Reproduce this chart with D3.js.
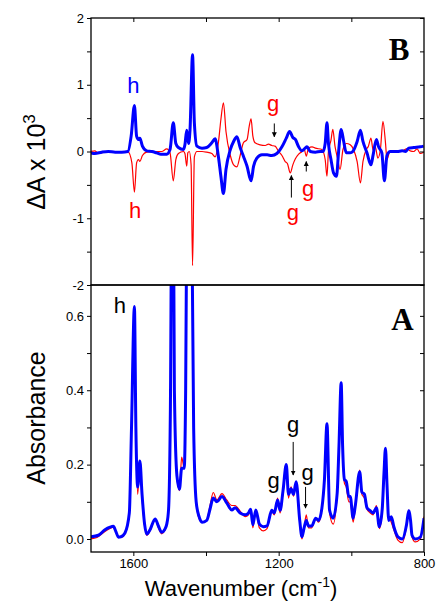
<!DOCTYPE html>
<html>
<head>
<meta charset="utf-8">
<script src="https://cdn.jsdelivr.net/npm/d3@7/dist/d3.min.js"></script>
<style>
body { margin: 0; background: #fff; }
text { font-family: "Liberation Sans", Arial, sans-serif; fill: #000; }
</style>
</head>
<body>
<div id="chart"></div>
<script>
// panel B: difference spectra (x 10^3), [wavenumber, dA]
var blueB = [[1717,-0.02],[1706,-0.03],[1687,-0.01],[1669,0.0],[1650,-0.01],[1632,-0.01],[1615,0.0],[1606,0.23],[1597,0.69],[1591,0.23],[1586,0.18],[1582,0.2],[1575,0.08],[1563,0.01],[1549,0.0],[1536,-0.02],[1524,-0.04],[1508,-0.04],[1499,0.03],[1490,0.43],[1483,0.12],[1476,0.06],[1462,0.03],[1458,0.1],[1453,0.32],[1448,0.12],[1444,0.32],[1437,1.45],[1432,0.43],[1425,0.08],[1411,0.05],[1398,0.06],[1384,0.13],[1375,0.19],[1366,-0.07],[1359,-0.37],[1352,-0.63],[1345,-0.27],[1333,0.03],[1324,0.15],[1315,0.22],[1306,0.06],[1297,-0.07],[1287,-0.22],[1276,-0.44],[1269,-0.22],[1260,-0.1],[1246,-0.05],[1232,-0.05],[1219,-0.06],[1205,-0.03],[1191,0.07],[1179,0.2],[1170,0.3],[1161,0.21],[1154,0.18],[1145,0.07],[1136,0.01],[1127,0.05],[1122,0.07],[1113,0.0],[1099,-0.01],[1085,0.0],[1078,0.0],[1072,0.12],[1067,0.43],[1063,0.12],[1056,-0.12],[1049,-0.32],[1041,-0.37],[1035,0.0],[1028,0.33],[1021,0.15],[1014,-0.02],[1003,-0.02],[996,0.0],[984,0.15],[975,0.32],[968,0.15],[957,-0.02],[946,-0.2],[940,-0.05],[931,0.18],[925,0.07],[916,-0.02],[909,-0.44],[902,-0.06],[893,0.0],[874,0.0],[860,0.01],[851,0.0],[842,0.05],[828,0.06],[810,0.07],[801,0.08]];

var redB = [[1717,0.0],[1706,0.01],[1697,-0.02],[1687,-0.02],[1678,0.0],[1669,-0.01],[1641,0.0],[1614,-0.01],[1604,-0.17],[1597,-0.61],[1591,-0.17],[1586,-0.12],[1582,-0.15],[1575,-0.06],[1563,-0.01],[1540,0.0],[1522,0.0],[1508,0.04],[1499,-0.02],[1490,-0.44],[1483,-0.12],[1476,-0.03],[1462,0.0],[1458,-0.03],[1453,-0.22],[1450,-0.02],[1446,0.0],[1441,-0.2],[1437,-1.71],[1432,-0.08],[1425,0.0],[1411,0.0],[1398,-0.01],[1384,-0.03],[1375,-0.08],[1366,0.13],[1359,0.48],[1352,0.73],[1345,0.3],[1333,-0.06],[1324,-0.2],[1315,-0.23],[1306,-0.06],[1297,0.13],[1287,0.18],[1281,0.38],[1276,0.49],[1271,0.23],[1265,0.13],[1251,0.1],[1237,0.09],[1228,0.11],[1219,0.09],[1210,0.08],[1200,0.0],[1191,-0.06],[1182,-0.15],[1176,-0.18],[1168,-0.32],[1161,-0.2],[1154,-0.11],[1145,-0.04],[1136,0.0],[1130,0.04],[1124,-0.07],[1118,0.05],[1108,0.07],[1099,0.05],[1081,0.03],[1072,-0.12],[1067,-0.37],[1063,0.0],[1056,0.17],[1051,0.33],[1045,0.08],[1038,-0.1],[1031,-0.27],[1023,0.03],[1014,0.12],[1003,0.1],[994,0.03],[984,-0.15],[975,-0.47],[968,-0.15],[959,0.03],[953,0.08],[946,0.2],[940,0.02],[934,0.07],[927,-0.1],[920,0.03],[913,0.45],[906,0.13],[902,-0.12],[894,0.0],[865,0.0],[847,0.04],[838,0.01],[828,0.0],[819,0.04],[810,-0.03],[801,-0.01]];

// panel A: absorbance spectra, [wavenumber, A]
var blueA = [[1717,0.006],[1696,0.01],[1678,0.025],[1664,0.032],[1655,0.034],[1648,0.02],[1641,0.005],[1634,0.006],[1623,0.016],[1611,0.07],[1605,0.3],[1597,0.625],[1593,0.3],[1588,0.14],[1582,0.21],[1576,0.12],[1569,0.04],[1563,0.013],[1554,0.025],[1540,0.054],[1531,0.035],[1522,0.018],[1514,0.025],[1508,0.04],[1503,0.08],[1498,0.35],[1492,1.3],[1487,0.4],[1480,0.17],[1473,0.134],[1467,0.19],[1460,0.19],[1456,0.4],[1452,1.0],[1445,1.3],[1440,1.0],[1434,0.3],[1427,0.1],[1419,0.06],[1411,0.045],[1398,0.05],[1389,0.08],[1380,0.11],[1370,0.1],[1356,0.114],[1343,0.097],[1329,0.078],[1320,0.084],[1306,0.07],[1292,0.065],[1283,0.07],[1277,0.08],[1271,0.038],[1263,0.078],[1253,0.04],[1242,0.033],[1232,0.035],[1219,0.077],[1212,0.07],[1203,0.105],[1196,0.077],[1188,0.13],[1179,0.2],[1173,0.12],[1166,0.135],[1159,0.12],[1152,0.154],[1142,0.05],[1136,0.006],[1130,0.03],[1124,0.05],[1118,0.035],[1109,0.035],[1098,0.056],[1090,0.05],[1081,0.083],[1074,0.16],[1067,0.31],[1060,0.078],[1050,0.056],[1039,0.123],[1034,0.25],[1028,0.42],[1024,0.25],[1019,0.16],[1014,0.155],[1007,0.114],[1003,0.114],[995,0.056],[989,0.09],[977,0.181],[971,0.126],[964,0.12],[957,0.084],[948,0.076],[940,0.07],[931,0.084],[923,0.033],[915,0.08],[910,0.18],[906,0.244],[902,0.15],[897,0.05],[890,0.06],[883,0.033],[872,0.006],[860,0.0],[848,0.039],[842,0.076],[837,0.05],[833,0.01],[824,0.0],[810,0.005],[800,0.056]];

var redA = [[1717,0.0],[1700,0.004],[1678,0.02],[1664,0.028],[1655,0.032],[1648,0.02],[1641,0.004],[1634,0.004],[1623,0.014],[1611,0.07],[1605,0.3],[1597,0.62],[1593,0.3],[1588,0.12],[1582,0.2],[1576,0.11],[1569,0.035],[1563,0.01],[1554,0.022],[1540,0.052],[1531,0.03],[1522,0.014],[1514,0.022],[1508,0.04],[1503,0.08],[1498,0.35],[1492,1.3],[1487,0.4],[1480,0.17],[1473,0.13],[1467,0.22],[1460,0.19],[1456,0.4],[1452,1.0],[1445,1.3],[1440,1.0],[1434,0.3],[1427,0.1],[1419,0.055],[1411,0.045],[1398,0.05],[1389,0.09],[1380,0.125],[1370,0.105],[1356,0.122],[1343,0.105],[1329,0.09],[1320,0.09],[1306,0.075],[1292,0.06],[1283,0.065],[1277,0.08],[1271,0.03],[1263,0.075],[1253,0.03],[1242,0.022],[1232,0.028],[1219,0.075],[1212,0.065],[1203,0.11],[1196,0.07],[1188,0.125],[1179,0.195],[1173,0.11],[1166,0.14],[1159,0.115],[1152,0.15],[1142,0.045],[1136,0.0],[1130,0.03],[1124,0.065],[1118,0.03],[1109,0.03],[1098,0.055],[1090,0.045],[1081,0.08],[1074,0.155],[1067,0.305],[1060,0.07],[1050,0.04],[1039,0.12],[1034,0.25],[1028,0.415],[1024,0.25],[1019,0.15],[1014,0.14],[1007,0.1],[1003,0.1],[995,0.045],[989,0.085],[977,0.185],[971,0.12],[964,0.11],[957,0.08],[948,0.07],[940,0.065],[931,0.09],[923,0.028],[915,0.07],[910,0.17],[906,0.24],[902,0.14],[897,0.06],[890,0.045],[883,0.025],[872,-0.003],[860,-0.01],[848,0.035],[842,0.078],[837,0.045],[833,0.005],[824,-0.008],[810,0.0],[800,0.06]];

var xTicks = [1600, 1400, 1200, 1000, 800];
var xLabels = [1600, 1200, 800];
var yTicksB = [-2, -1.5, -1, -0.5, 0, 0.5, 1, 1.5, 2];
var yTicksA = [0, 0.1, 0.2, 0.3, 0.4, 0.5, 0.6];

// labels: [wavenumber, value, text, colour]
var labelsB = [[1600, 0.88, "h", "#0000ff"], [1595, -0.99, "h", "#ff0000"], [1215, 0.6, "g", "#ff0000"], [1161, -1.03, "g", "#ff0000"], [1119, -0.67, "g", "#ff0000"]];
var labelsA = [[1637, 0.608, "h"], [1214, 0.137, "g"], [1160, 0.288, "g"], [1120, 0.159, "g"]];
// arrows: [wavenumber, from, to]
var arrowsB = [[1212, 0.42, 0.22], [1165, -0.69, -0.36], [1124, -0.30, -0.15]];
var arrowsA = [[1160, 0.261, 0.172], [1126, 0.14, 0.083]];

var svgWidth = 438, svgHeight = 603;
var left = 91, right = 424;
var topB = 18, midY = 285, botA = 552;

var svg = d3.select("#chart").append("svg")
    .attr("width", svgWidth)
    .attr("height", svgHeight);

var x = d3.scaleLinear().domain([1716.5, 800]).range([left, right]);
var yB = d3.scaleLinear().domain([-2, 2]).range([midY, topB]);
var yA = d3.scaleLinear().domain([-0.035, 0.683]).range([botA, midY]);

var defs = svg.append("defs");
defs.append("clipPath").attr("id", "clipB").append("rect")
    .attr("x", left).attr("y", topB).attr("width", right - left).attr("height", midY - topB);
defs.append("clipPath").attr("id", "clipA").append("rect")
    .attr("x", left).attr("y", midY).attr("width", right - left).attr("height", botA - midY);
defs.append("marker").attr("id", "arrow")
    .attr("viewBox", "0 0 10 10").attr("refX", 9).attr("refY", 5)
    .attr("markerWidth", 5).attr("markerHeight", 6).attr("markerUnits", "userSpaceOnUse")
    .attr("orient", "auto")
    .append("path").attr("d", "M0,0L10,5L0,10Z").attr("fill", "#000");

var lineB = d3.line().x(d => x(d[0])).y(d => yB(d[1])).curve(d3.curveMonotoneX);
var lineA = d3.line().x(d => x(d[0])).y(d => yA(d[1])).curve(d3.curveMonotoneX);

var gB = svg.append("g").attr("clip-path", "url(#clipB)");
gB.append("path").datum(redB).attr("d", lineB)
    .attr("fill", "none").attr("stroke", "#ff0000").attr("stroke-width", 1.2);
gB.append("path").datum(blueB).attr("d", lineB)
    .attr("fill", "none").attr("stroke", "#0000ff").attr("stroke-width", 3).attr("stroke-linejoin", "round");

var gA = svg.append("g").attr("clip-path", "url(#clipA)");
gA.append("path").datum(redA).attr("d", lineA)
    .attr("fill", "none").attr("stroke", "#ff0000").attr("stroke-width", 1.2);
gA.append("path").datum(blueA).attr("d", lineA)
    .attr("fill", "none").attr("stroke", "#0000ff").attr("stroke-width", 3).attr("stroke-linejoin", "round");

function styleAxis(g) {
    g.select(".domain").remove();
    g.selectAll("line").attr("stroke", "#000").attr("stroke-width", 1);
    g.selectAll("text").attr("font-size", "13px").attr("font-family", "Liberation Sans, Arial, sans-serif").attr("fill", "#000");
}

// panel B axes
svg.append("g").attr("transform", `translate(${left},0)`)
    .call(d3.axisLeft(yB).tickValues(yTicksB).tickSize(4).tickPadding(3)
        .tickFormat(d => Number.isInteger(d) ? String(d) : ""))
    .call(styleAxis);
svg.append("g").attr("transform", `translate(${right},0)`)
    .call(d3.axisRight(yB).tickValues(yTicksB).tickSize(-4).tickFormat(""))
    .call(styleAxis);
svg.append("g").attr("transform", `translate(0,${topB})`)
    .call(d3.axisTop(x).tickValues(xTicks.slice(0, 4)).tickSize(-4).tickFormat(""))
    .call(styleAxis);

// panel A axes
svg.append("g").attr("transform", `translate(${left},0)`)
    .call(d3.axisLeft(yA).tickValues(yTicksA).tickSize(4).tickPadding(3)
        .tickFormat(d => (Math.round(d * 10) % 2 == 0) ? d.toFixed(1) : ""))
    .call(styleAxis);
svg.append("g").attr("transform", `translate(${right},0)`)
    .call(d3.axisRight(yA).tickValues(yTicksA).tickSize(-4).tickFormat(""))
    .call(styleAxis);
svg.append("g").attr("transform", `translate(0,${botA})`)
    .call(d3.axisBottom(x).tickValues(xTicks).tickSize(4).tickPadding(3)
        .tickFormat(d => xLabels.indexOf(d) >= 0 ? String(d) : ""))
    .call(styleAxis);

// frames
svg.append("rect").attr("x", left).attr("y", topB).attr("width", right - left).attr("height", midY - topB)
    .attr("fill", "none").attr("stroke", "#000").attr("stroke-width", 1.3);
svg.append("rect").attr("x", left).attr("y", midY).attr("width", right - left).attr("height", botA - midY)
    .attr("fill", "none").attr("stroke", "#000").attr("stroke-width", 1.3);

// annotations
svg.append("g").selectAll("text").data(labelsB).enter().append("text")
    .attr("x", d => x(d[0])).attr("y", d => yB(d[1]))
    .attr("text-anchor", "middle").attr("font-size", "22px")
    .style("fill", d => d[3])
    .text(d => d[2]);
svg.append("g").selectAll("text").data(labelsA).enter().append("text")
    .attr("x", d => x(d[0])).attr("y", d => yA(d[1]))
    .attr("text-anchor", "middle").attr("font-size", "22px")
    .text(d => d[2]);

svg.append("g").selectAll("line").data(arrowsB).enter().append("line")
    .attr("x1", d => x(d[0])).attr("x2", d => x(d[0]))
    .attr("y1", d => yB(d[1])).attr("y2", d => yB(d[2]))
    .attr("stroke", "#000").attr("stroke-width", 1).attr("marker-end", "url(#arrow)");
svg.append("g").selectAll("line").data(arrowsA).enter().append("line")
    .attr("x1", d => x(d[0])).attr("x2", d => x(d[0]))
    .attr("y1", d => yA(d[1])).attr("y2", d => yA(d[2]))
    .attr("stroke", "#000").attr("stroke-width", 1).attr("marker-end", "url(#arrow)");

svg.append("text").attr("x", x(897)).attr("y", yB(1.37))
    .style("font-family", "Liberation Serif, Times New Roman, serif").style("font-weight", "bold")
    .attr("font-size", "31px").text("B");
svg.append("text").attr("x", x(890)).attr("y", yA(0.563))
    .style("font-family", "Liberation Serif, Times New Roman, serif").style("font-weight", "bold")
    .attr("font-size", "31px").text("A");

// axis titles
var dTitle = svg.append("text")
    .attr("transform", "translate(45,162) rotate(-90)")
    .attr("text-anchor", "middle")
    .attr("font-size", "25px");
dTitle.append("tspan").text("\u0394A x 10");
dTitle.append("tspan").attr("dy", -10).attr("font-size", "17px").text("3");

svg.append("text")
    .attr("transform", "translate(45,418) rotate(-90)")
    .attr("text-anchor", "middle")
    .attr("font-size", "25px")
    .text("Absorbance");

var xTitle = svg.append("text")
    .attr("x", 241).attr("y", 596)
    .attr("text-anchor", "middle")
    .attr("font-size", "22px");
xTitle.append("tspan").text("Wavenumber (cm");
xTitle.append("tspan").attr("dy", -9).attr("font-size", "14px").text("-1");
xTitle.append("tspan").attr("dy", 9).text(")");
</script>
</body>
</html>
